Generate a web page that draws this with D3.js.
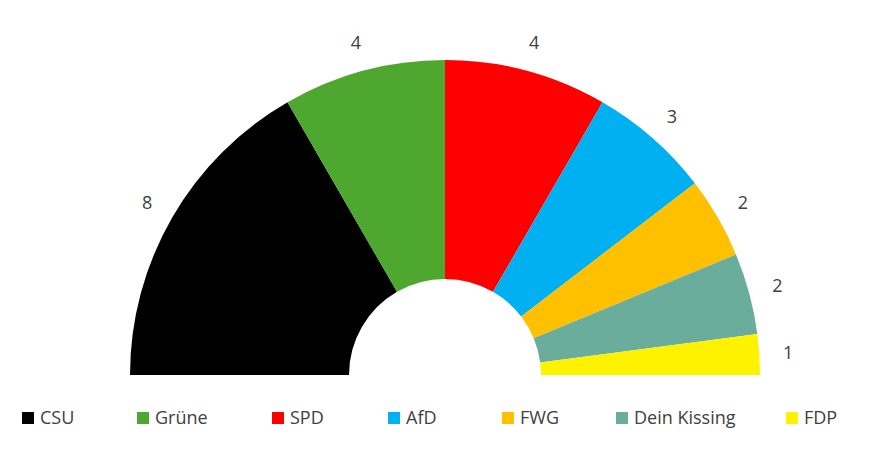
<!DOCTYPE html>
<html>
<head>
<meta charset="utf-8">
<script src="https://cdn.jsdelivr.net/npm/d3@7"></script>
<style>
  body { margin: 0; background: #fff; }
  text { font-family: "Open Sans", "Noto Sans", sans-serif; }
</style>
</head>
<body>
<div class="chart"></div>
<script>
const parties = ["CSU", "Grüne", "SPD", "AfD", "FWG", "Dein Kissing", "FDP"];
const seats = [8, 4, 4, 3, 2, 2, 1];
const colors = ["#000000", "#4ea72e", "#ff0000", "#00b0f0", "#ffc000", "#6aad9c", "#fff200"];
const legendX = [22, 137, 272, 388, 502, 616, 786];

const width = 888, height = 449;
const cx = 445, cy = 375, outerR = 315, innerR = 96;

const svg = d3.select(".chart").append("svg")
  .attr("width", width).attr("height", height);

const data = parties.map((p, i) => ({ party: p, seats: seats[i], color: colors[i] }));

const pie = d3.pie().sort(null).value(d => d.seats)
  .startAngle(-Math.PI / 2).endAngle(Math.PI / 2);
const arc = d3.arc().innerRadius(innerR).outerRadius(outerR);
const labelArc = d3.arc().innerRadius(344).outerRadius(344);

const g = svg.append("g").attr("transform", `translate(${cx},${cy})`);
const arcs = pie(data);

g.selectAll("path").data(arcs).join("path")
  .attr("d", arc)
  .attr("fill", d => d.data.color);

g.selectAll("text").data(arcs).join("text")
  .attr("transform", d => `translate(${labelArc.centroid(d)})`)
  .attr("text-anchor", "middle")
  .attr("dy", "0.35em")
  .attr("font-size", 18)
  .attr("fill", "#404040")
  .text(d => d.data.seats);

const legend = svg.append("g").selectAll("g").data(data).join("g")
  .attr("transform", (d, i) => `translate(${legendX[i]},418)`);
legend.append("rect").attr("x", 0).attr("y", -6).attr("width", 12).attr("height", 12)
  .attr("fill", d => d.color);
legend.append("text").attr("x", 18).attr("dy", "0.35em")
  .attr("font-size", 18).attr("fill", "#404040")
  .text(d => d.party);
</script>
</body>
</html>
